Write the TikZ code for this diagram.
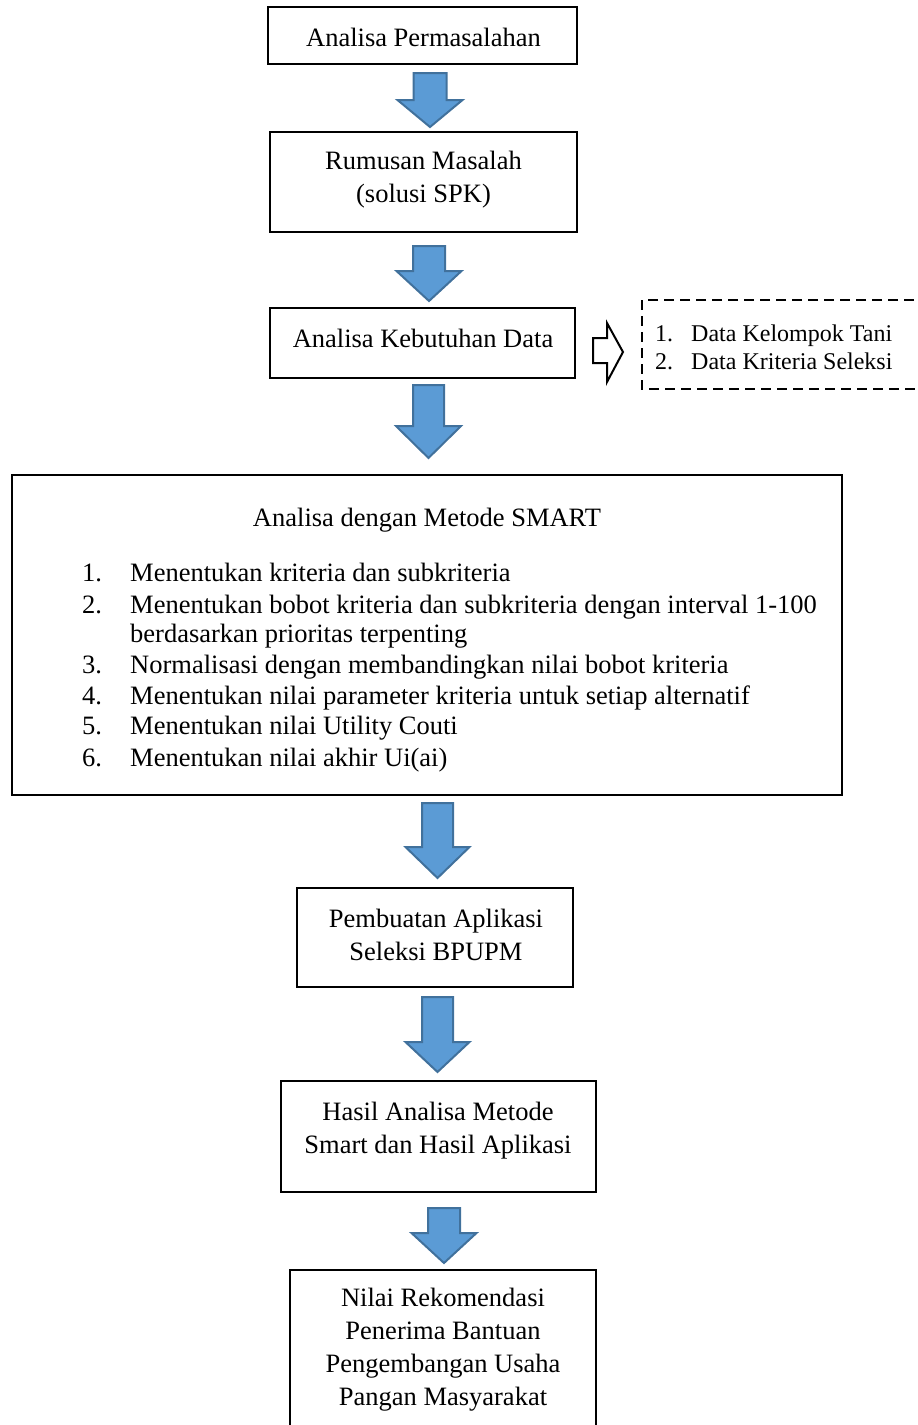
\documentclass[tikz,border=0pt]{standalone}
\usepackage{fontspec}
\setmainfont{Liberation Serif}
\definecolor{arrfill}{HTML}{5B9BD5}
\definecolor{arrdraw}{HTML}{41719C}
\tikzset{
  boxnode/.style={draw=black, line width=2pt, inner sep=0pt, rectangle},
  boxtext/.style={align=center, inner sep=0pt, font=\fontsize{26.5}{33}\selectfont},
  listtext/.style={inner sep=0pt, anchor=base west, font=\fontsize{26.5}{33}\selectfont},
  smalltext/.style={inner sep=0pt, anchor=base west, font=\fontsize{24}{28}\selectfont},
  blockarrow/.style={fill=arrfill, draw=arrdraw, line width=2pt, line join=miter},
  hollowarrow/.style={fill=white, draw=black, line width=2pt, line join=miter},
  dashbox/.style={draw=black, line width=2pt, dash pattern=on 10pt off 6pt},
}
\newcommand{\blkdown}[6]{% cx, top, head, tip, shaft half, head half
  \draw[blockarrow] (#1-#5,#2) -- (#1+#5,#2) -- (#1+#5,#3) -- (#1+#6,#3) -- (#1,#4) -- (#1-#6,#3) -- (#1-#5,#3) -- cycle;}
\begin{document}
\begin{tikzpicture}[x=1pt,y=-1pt]
\useasboundingbox (0,0) rectangle (918,1425);

% boxes
\node[boxnode, minimum width=309pt, minimum height=57pt] (b1) at (422.5,35.5) {};
\node[boxnode, minimum width=307pt, minimum height=100pt] (b2) at (423.5,182) {};
\node[boxnode, minimum width=305pt, minimum height=70pt] (b3) at (422.5,343) {};
\node[boxnode, minimum width=830pt, minimum height=320pt] (b4) at (427,635) {};
\node[boxnode, minimum width=276pt, minimum height=99pt] (b5) at (435,937.5) {};
\node[boxnode, minimum width=315pt, minimum height=111pt] (b6) at (438.5,1136.5) {};
\node[boxnode, minimum width=306pt, minimum height=170pt] (b7) at (443,1355) {};

% box texts
\node[boxtext] (t1) at (423.5,37) {Analisa Permasalahan};
\node[boxtext] (t2) at (423.5,180) {Rumusan Masalah\\(solusi SPK)};
\node[boxtext] (t3) at (423,338) {Analisa Kebutuhan Data};
\node[boxtext] (t5) at (436,935) {Pembuatan Aplikasi\\Seleksi BPUPM};
\node[boxtext] (t6) at (438,1131) {Hasil Analisa Metode\\Smart dan Hasil Aplikasi};
\node[boxtext] (t7) at (443,1350) {Nilai Rekomendasi\\Penerima Bantuan\\Pengembangan Usaha\\Pangan Masyarakat};

% SMART box content
\node[inner sep=0pt, anchor=base, font=\fontsize{26.5}{33}\selectfont] (t4) at (427,526) {Analisa dengan Metode SMART};
\node[listtext] (n1) at (82,581) {1.};
\node[listtext] (l1) at (130,581) {Menentukan kriteria dan subkriteria};
\node[listtext] (n2) at (82,613) {2.};
\node[listtext] (l2) at (130,613) {Menentukan bobot kriteria dan subkriteria dengan interval 1-100};
\node[listtext] (l2b) at (130,642) {berdasarkan prioritas terpenting};
\node[listtext] (n3) at (82,673) {3.};
\node[listtext] (l3) at (130,673) {Normalisasi dengan membandingkan nilai bobot kriteria};
\node[listtext] (n4) at (82,704) {4.};
\node[listtext] (l4) at (130,704) {Menentukan nilai parameter kriteria untuk setiap alternatif};
\node[listtext] (n5) at (82,734) {5.};
\node[listtext] (l5) at (130,734) {Menentukan nilai Utility Couti};
\node[listtext] (n6) at (82,766) {6.};
\node[listtext] (l6) at (130,766) {Menentukan nilai akhir Ui(ai)};

% dashed data box
\draw[dashbox] (930,300) -- (642,300) -- (642,389) -- (930,389);
\node[smalltext] (d1n) at (655,341) {1.};
\node[smalltext] (d1) at (691,341) {Data Kelompok Tani};
\node[smalltext] (d2n) at (655,369) {2.};
\node[smalltext] (d2) at (691,369) {Data Kriteria Seleksi};

% hollow right arrow
\draw[hollowarrow] (593,338) -- (607,338) -- (607,323) -- (623,352) -- (607,382) -- (607,363) -- (593,363) -- cycle;

% blue block arrows
\blkdown{430}{73}{100}{127}{16.5}{32.5}
\blkdown{429}{246}{271}{301}{16}{32.5}
\blkdown{428.5}{385}{426}{458}{15.5}{32.5}
\blkdown{437.5}{803}{847}{878}{15.5}{32}
\blkdown{437.5}{997}{1042}{1072}{15.5}{32}
\blkdown{444}{1208}{1233}{1263}{16}{32.5}
\end{tikzpicture}
\end{document}
